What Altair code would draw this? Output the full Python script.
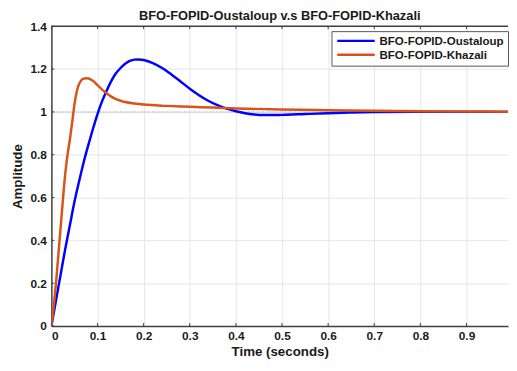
import altair as alt
import pandas as pd

TITLE = "BFO-FOPID-Oustaloup v.s BFO-FOPID-Khazali"
SERIES = ["BFO-FOPID-Oustaloup", "BFO-FOPID-Khazali"]
COLORS = ["#0000FF", "#D95319"]

t_oust = [0, 0.01, 0.02, 0.03, 0.04, 0.05, 0.06, 0.07, 0.08, 0.09, 0.10, 0.11, 0.12,
          0.13, 0.14, 0.15, 0.16, 0.17, 0.18, 0.19, 0.20, 0.22, 0.24, 0.26, 0.28, 0.30,
          0.32, 0.34, 0.36, 0.38, 0.40, 0.42, 0.44, 0.46, 0.48, 0.50, 0.55, 0.60, 0.65,
          0.70, 0.80, 0.90, 1.0]
y_oust = [0, 0.12, 0.24, 0.36, 0.47, 0.58, 0.675, 0.765, 0.845, 0.92, 0.99, 1.05, 1.10,
          1.145, 1.18, 1.205, 1.225, 1.238, 1.244, 1.245, 1.242, 1.228, 1.205, 1.175, 1.142, 1.108,
          1.078, 1.052, 1.031, 1.015, 1.003, 0.994, 0.988, 0.985, 0.985, 0.986, 0.99, 0.994, 0.997,
          0.999, 1.0, 1.0, 1.0]

t_khaz = [0, 0.005, 0.01, 0.015, 0.02, 0.025, 0.03, 0.035, 0.04, 0.045, 0.05, 0.055, 0.06,
          0.065, 0.07, 0.075, 0.08, 0.085, 0.09, 0.10, 0.11, 0.12, 0.13, 0.14, 0.15, 0.16,
          0.18, 0.20, 0.25, 0.30, 0.35, 0.40, 0.50, 0.60, 0.70, 0.80, 0.90, 1.0]
y_khaz = [0, 0.09, 0.2, 0.33, 0.46, 0.59, 0.71, 0.80, 0.87, 0.95, 1.035, 1.095, 1.13,
          1.148, 1.155, 1.157, 1.156, 1.152, 1.145, 1.125, 1.104, 1.086, 1.071, 1.06, 1.052, 1.046,
          1.039, 1.034, 1.028, 1.024, 1.02, 1.016, 1.011, 1.008, 1.005, 1.003, 1.002, 1.001]

x_ticks = [0, 0.1, 0.2, 0.3, 0.4, 0.5, 0.6, 0.7, 0.8, 0.9]
y_ticks = [0, 0.2, 0.4, 0.6, 0.8, 1.0, 1.2, 1.4]
reference_level = [1.0]

W, H = 463, 304
FONT = "Liberation Sans"
AX = "#404040"

df = pd.concat([
    pd.DataFrame({"t": t_oust, "y": y_oust, "s": SERIES[0], "o": 0}),
    pd.DataFrame({"t": t_khaz, "y": y_khaz, "s": SERIES[1], "o": 1}),
])

xs = alt.Scale(domain=[0, 0.99], nice=False, zero=False)
ys = alt.Scale(domain=[0, 1.4], nice=False)

lines = alt.Chart(df).mark_line(strokeWidth=2.5, clip=True, interpolate="monotone").encode(
    x=alt.X("t:Q", scale=xs, title="Time (seconds)",
            axis=alt.Axis(values=x_ticks, format="~g", labelPadding=5, titlePadding=3)),
    y=alt.Y("y:Q", scale=ys, title="Amplitude",
            axis=alt.Axis(values=y_ticks, format="~g", labelPadding=5, titlePadding=6)),
    color=alt.Color("s:N", scale=alt.Scale(domain=SERIES, range=COLORS),
                    legend=alt.Legend(title=None, orient="none", legendX=284, legendY=5,
                                      symbolType="M-4.75,0H4.75", symbolSize=64,
                                      symbolStrokeWidth=2.5, symbolOffset=15,
                                      labelFont=FONT,
                                      labelFontSize=11.7, labelFontWeight="bold",
                                      labelColor="#1a1a1a", labelOffset=18,
                                      padding=4, rowPadding=1,
                                      strokeColor="#555555", fillColor="white",
                                      cornerRadius=0)),
    order=alt.Order("o:Q"),
    detail="s:N",
)

ref = alt.Chart(pd.DataFrame({"y": reference_level})).mark_rule(
    color="#9a9a9a", strokeDash=[1, 1.5], strokeWidth=1
).encode(y=alt.Y("y:Q", scale=ys))

top_border = alt.Chart(pd.DataFrame({"y": [y_ticks[-1]]})).mark_rule(
    color=AX, strokeWidth=1.5
).encode(y=alt.Y("y:Q", scale=ys))

tick_df = pd.DataFrame({"x": x_ticks})
bottom_ticks = alt.Chart(tick_df).mark_rule(color=AX, strokeWidth=1).encode(
    x=alt.X("x:Q", scale=xs), y=alt.datum(y_ticks[0]), y2=alt.value(H - 3))
top_ticks = alt.Chart(tick_df).mark_rule(color=AX, strokeWidth=1).encode(
    x=alt.X("x:Q", scale=xs), y=alt.datum(y_ticks[-1]), y2=alt.value(3))
left_ticks = alt.Chart(pd.DataFrame({"y": y_ticks})).mark_rule(color=AX, strokeWidth=1).encode(
    y=alt.Y("y:Q", scale=ys), x=alt.datum(x_ticks[0]), x2=alt.value(3))

chart = alt.layer(ref, bottom_ticks, top_ticks, left_ticks, top_border, lines).properties(
    width=W, height=H,
    title=alt.TitleParams(TITLE, font=FONT, fontSize=13, fontWeight="bold",
                          color="#1a1a1a", anchor="middle", offset=3, dy=6),
    autosize=alt.AutoSizeParams(type="none"),
    padding={"left": 44, "top": 16, "right": 1, "bottom": 34},
).configure_view(stroke=None).configure_axis(
    labelFont=FONT, labelFontSize=12, labelFontWeight="bold", labelColor="#1a1a1a",
    titleFont=FONT, titleFontSize=13.5, titleFontWeight="bold", titleColor="#1a1a1a",
    domainColor=AX, domainWidth=1.5, ticks=False,
    gridColor="#e6e6e6", gridWidth=1,
)

chart.save("out.html", embed_options={"renderer": "svg", "actions": False})
